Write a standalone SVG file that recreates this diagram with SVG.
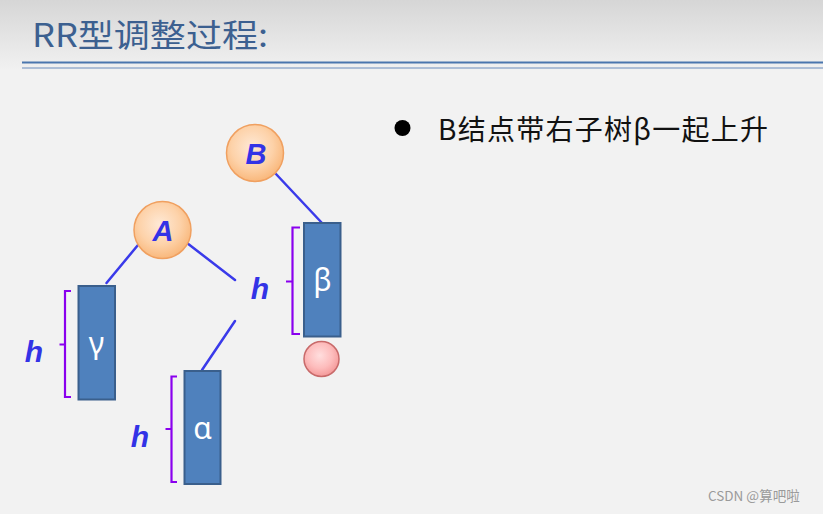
<svg xmlns="http://www.w3.org/2000/svg" width="823" height="514" viewBox="0 0 823 514">
<defs>
<linearGradient id="bg" x1="0" y1="0" x2="0" y2="1">
<stop offset="0" stop-color="#d6d6d6"/>
<stop offset="1" stop-color="#f1f1f1"/>
</linearGradient>
<radialGradient id="orange" cx="0.45" cy="0.4" r="0.6">
<stop offset="0" stop-color="#fee9d6"/>
<stop offset="0.6" stop-color="#fdd2a9"/>
<stop offset="1" stop-color="#f9b87c"/>
</radialGradient>
<radialGradient id="pink" cx="0.45" cy="0.4" r="0.6">
<stop offset="0" stop-color="#ffdede"/>
<stop offset="0.6" stop-color="#fdbcbc"/>
<stop offset="1" stop-color="#f49a9a"/>
</radialGradient>
</defs>
<style>
.node{fill:url(#orange);stroke:#f0a060;stroke-width:1.5}
.nl{font-family:"Liberation Sans",Arial,sans-serif;font-weight:bold;font-style:italic;font-size:29px;fill:#3333e6;text-anchor:middle}
.tree{fill:#4f81bd;stroke:#3a5f8c;stroke-width:2}
.gl{font-family:"Noto Sans","DejaVu Sans",sans-serif;font-size:30px;fill:#ffffff;text-anchor:middle}
.edge{stroke:#3a3aea;stroke-width:2.5;fill:none;stroke-linecap:round}
.br{stroke:#8a00ee;stroke-width:2.2;fill:none}
.h{font-family:"Liberation Sans",Arial,sans-serif;font-weight:bold;font-style:italic;font-size:30px;fill:#3333e6;text-anchor:middle}
</style>
<rect x="0" y="0" width="823" height="514" fill="#f2f2f2"/>
<rect x="0" y="0" width="823" height="70" fill="url(#bg)"/>
<text x="32" y="47" font-family="'Noto Sans CJK SC','Noto Sans',sans-serif" font-size="32" fill="#3c6090" textLength="236" lengthAdjust="spacingAndGlyphs">RR型调整过程:</text>
<line x1="22" y1="62.5" x2="823" y2="62.5" stroke="#4a76ae" stroke-width="2"/>
<line x1="22" y1="68" x2="823" y2="68" stroke="#6a8cbc" stroke-width="1"/>
<g id="connectors">
<line class="edge" x1="275.5" y1="173.5" x2="322" y2="223"/>
<line class="edge" x1="187" y1="243" x2="235" y2="280"/>
<line class="edge" x1="235" y1="321" x2="202" y2="370"/>
<line class="edge" x1="138" y1="245" x2="106.5" y2="283"/>
</g>
<g id="nodeB">
<circle class="node" cx="255" cy="153" r="28.5"/>
<text class="nl" x="256" y="164">B</text>
</g>
<g id="nodeA">
<circle class="node" cx="162.5" cy="230" r="28.5"/>
<text class="nl" x="163" y="241">A</text>
</g>
<g id="h-mid">
<text class="h" x="260" y="299">h</text>
</g>
<g id="beta">
<rect class="tree" x="304" y="223" width="36.5" height="113.5"/>
<text class="gl" x="322.5" y="291">β</text>
<path class="br" d="M300,227.5 H292.5 V334 H300 M292.5,281.5 H286"/>
</g>
<g id="nullnode">
<circle cx="321.5" cy="359" r="17.5" fill="url(#pink)" stroke="#c86a6a" stroke-width="1.5"/>
</g>
<g id="gamma">
<rect class="tree" x="78.5" y="286" width="36.5" height="113.5"/>
<text class="gl" x="96.5" y="354">γ</text>
<path class="br" d="M71,291 H65 V397 H71 M65,344.5 H59.5"/>
<text class="h" x="34" y="362">h</text>
</g>
<g id="alpha">
<rect class="tree" x="184.5" y="371" width="36" height="113"/>
<text class="gl" x="202.5" y="439">α</text>
<path class="br" d="M177,376.5 H171.5 V482 H177 M171.5,429 H165.5"/>
<text class="h" x="140" y="447">h</text>
</g>
<g id="bullet">
<circle cx="402.5" cy="128" r="8" fill="#000"/>
<text x="438" y="140" font-family="'Noto Sans CJK SC','Noto Sans',sans-serif" font-size="28" fill="#111" textLength="330" lengthAdjust="spacing">B结点带右子树β一起上升</text>
</g>
<text x="708" y="501" font-family="'Noto Sans CJK SC','Noto Sans',sans-serif" font-size="13.5" fill="#9a9a9a">CSDN @算吧啦</text>
</svg>
